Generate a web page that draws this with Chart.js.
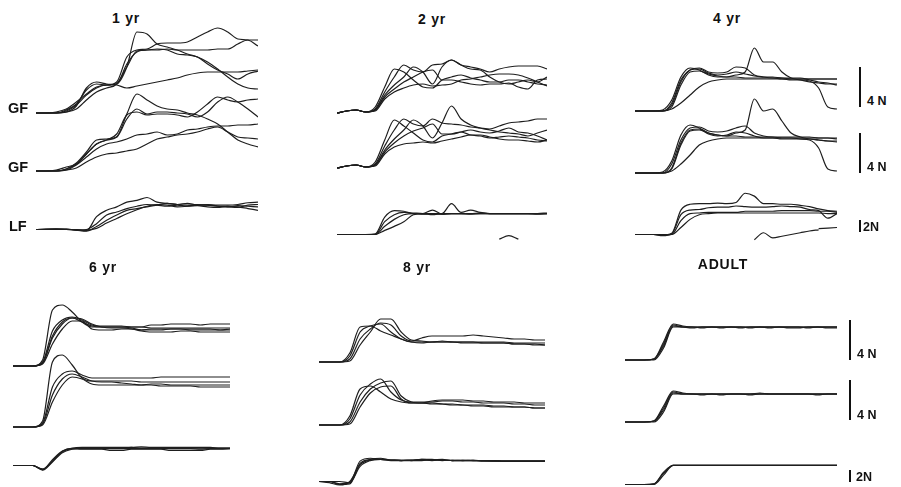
<!DOCTYPE html>
<html>
<head>
<meta charset="utf-8">
<script src="https://cdn.jsdelivr.net/npm/chart.js@4.4.0/dist/chart.umd.min.js"></script>
<style>
html, body { margin: 0; padding: 0; background: #fff; }
body { width: 901px; height: 487px; position: relative; overflow: hidden;
       font-family: "Liberation Sans", Arial, sans-serif; font-weight: bold; color: #111; }
canvas { position: absolute; }
.t { position: absolute; white-space: nowrap; transform: translate(-50%, -50%); }
.lbl { position: absolute; white-space: nowrap; transform: translateY(-50%); }
.bar { position: absolute; width: 2px; background: #111; }
</style>
</head>
<body>
<script>
// time axis, ms (one sample every 100 ms)
var time = [0,100,200,300,400,500,600,700,800,900,1000,1100,1200,1300,1400,1500,1600,1700,1800,1900,2000,2100,2200];

// forces in N, one array per trial
var yr1GF1 = [
    [0,0,0.1,0.4,1.1,1.9,2.6,2.8,2.9,4.6,8.1,7.9,6.9,6.6,6.3,5.9,5.6,4.9,4.3,3.9,3.4,3.9,4.2],
    [0,0,0,0.3,0.9,2.3,2.9,2.8,3.1,5.6,6.3,6.4,6.9,7.0,7.0,7.1,7.6,8.1,8.5,8.1,7.4,7.3,6.7],
    [0,0,0,0.1,0.7,2.5,3.1,2.9,2.8,2.5,2.7,2.9,3.1,3.3,3.5,3.8,4.0,4.1,4.1,4.1,4.1,4.2,4.3],
    [0,0,0,0.1,0.4,1.3,2.1,2.5,2.9,4.6,6.2,6.3,6.4,6.3,5.9,5.8,5.6,5.1,4.4,3.6,2.9,2.5,2.4],
    [0,0,0,0.2,0.8,1.8,2.5,2.8,2.9,4.9,6.1,6.3,6.3,6.4,6.3,6.3,6.3,6.3,6.4,6.4,6.9,7.3,7.3]
];
var yr1GF2 = [
    [0,0,0.1,0.4,0.7,1.7,2.7,3.1,3.4,5.7,7.7,7.1,6.5,6.2,6.1,5.8,5.6,5.2,4.7,3.9,3.1,2.7,2.4],
    [0,0,0,0.2,0.8,1.9,3.1,3.2,3.4,5.2,6.2,5.7,5.9,5.9,5.8,5.7,5.4,5.9,6.9,7.4,6.9,6.2,5.4],
    [0,0,0,0.1,0.6,1.4,2.2,2.7,2.9,3.2,3.6,3.7,3.9,3.6,3.7,4.1,4.2,4.4,4.5,4.5,4.6,4.6,4.7],
    [0,0,0,0.1,0.3,0.9,1.4,1.7,1.8,2.0,2.2,2.7,3.2,3.4,3.6,3.7,3.9,4.2,4.4,3.9,3.4,3.3,3.2],
    [0,0,0,0.2,0.7,1.7,2.7,3.1,3.7,5.6,5.9,5.6,5.7,5.7,5.6,5.4,5.9,6.7,7.4,7.1,6.9,7.1,7.2]
];
var yr1LF = [
    [0,0,0.1,0,-0.1,-0.2,2.2,3.3,3.9,4.7,5.0,5.5,4.7,4.5,4.3,4.5,4.2,4.3,4.2,4.2,4.3,4.6,4.7],
    [0,0,0,0.1,-0.1,0,1.0,2.5,3.0,3.6,4.0,4.3,4.2,4.0,4.2,4.0,4.1,3.9,3.8,4.0,3.9,3.6,3.3],
    [0,0.1,0,0,-0.1,-0.3,0.5,1.6,2.5,3.3,3.6,3.9,4.2,4.5,4.3,4.2,4.3,4.2,4.0,3.9,4.1,4.0,3.9],
    [0,0,0.1,0,0,-0.1,0.2,1.1,1.9,2.7,3.4,4.0,4.3,4.2,3.9,4.0,4.2,4.2,4.0,3.9,3.8,4.2,4.3]
];

var yr2GF1 = [
    [0,0.2,0.3,0.1,0.6,2.6,4.4,4.1,3.3,2.6,2.5,3.3,3.6,3.8,3.5,3.3,3.1,3.1,3.3,3.3,3.1,2.9,2.8],
    [0,0.2,0.3,0.1,0.4,2.1,3.6,4.8,4.3,4.1,4.8,4.9,5.3,4.8,4.6,4.4,4.1,4.4,4.6,4.7,4.7,4.7,4.4],
    [0,0.2,0.3,0.1,0.3,1.8,2.8,3.6,4.6,4.1,2.9,4.6,5.3,4.8,4.4,4.3,3.6,3.1,2.9,3.1,3.3,3.1,3.6],
    [0,0.2,0.3,0.1,0.2,1.4,2.1,2.5,2.8,2.9,2.7,2.8,2.9,3.3,3.4,3.6,3.8,3.9,3.9,3.8,3.5,3.1,2.7],
    [0,0.2,0.3,0.1,0.3,1.6,2.4,3.1,3.6,4.1,4.3,3.3,3.3,3.1,2.9,2.8,2.9,2.9,3.0,2.6,2.4,3.3,3.4]
];
var yr2GF2 = [
    [0,0.2,0.3,0.1,0.6,2.8,4.8,4.2,3.5,2.8,2.6,3.2,3.4,3.6,3.3,3.2,3.0,3.1,3.2,3.1,3.0,2.8,2.7],
    [0,0.2,0.3,0.1,0.4,2.2,3.8,4.9,4.4,4.2,4.9,4.5,4.4,4.3,4.1,4.0,3.9,4.2,4.5,4.6,4.7,4.9,4.9],
    [0,0.2,0.3,0.1,0.3,1.8,2.9,3.8,4.8,4.2,3.0,4.5,6.2,4.9,4.3,4.0,3.8,3.6,3.5,3.4,3.2,3.5,3.8],
    [0,0.2,0.3,0.1,0.2,1.4,2.1,2.4,2.5,2.6,2.5,2.7,2.9,3.1,3.3,3.3,3.1,2.9,2.8,2.8,2.7,2.6,2.8],
    [0,0.2,0.3,0.1,0.3,1.6,2.5,3.2,3.7,4.0,4.4,3.4,3.4,3.6,3.8,3.6,3.5,3.7,4.0,3.6,3.5,3.2,2.8]
];
var yr2LF = [
    [0,0,0,0,0.1,3.0,4.1,4.0,3.6,3.6,3.4,3.6,3.6,3.6,3.6,3.6,3.6,3.6,3.6,3.6,3.6,3.6,3.6],
    [0,0,0,0,0,2.2,3.4,3.8,3.7,3.6,4.2,3.5,3.6,3.6,3.6,3.7,3.6,3.6,3.6,3.6,3.6,3.5,3.6],
    [0,0,0,0,0,1.4,2.6,3.4,3.6,3.5,3.6,3.6,5.3,3.8,4.2,3.8,3.6,3.6,3.6,3.6,3.6,3.6,3.7],
    [0,0,0,0,0,0.7,1.4,2.2,3.4,3.6,3.6,3.5,3.6,3.6,3.5,3.6,3.6,3.6,3.6,3.6,3.6,3.6,3.6],
    [null,null,null,null,null,null,null,null,null,null,null,null,null,null,null,null,null,-0.8,-0.2,-0.8,null,null,null]
];

var yr4GF1 = [
    [0,0,0,0.1,1.1,3.4,4.3,4.1,3.6,3.4,3.4,3.4,3.3,3.3,3.3,3.3,3.2,3.2,3.2,3.2,3.2,3.2,3.2],
    [0,0,0,0,0.8,3.1,4.1,4.3,3.9,3.8,3.9,4.4,4.3,3.6,3.4,3.3,3.3,3.2,3.2,3.2,3.2,3.2,3.2],
    [0,0,0,0,0.4,2.6,3.9,4.0,3.7,3.5,3.4,3.6,3.9,6.3,4.9,4.9,3.9,3.3,3.1,2.9,2.8,2.7,2.7],
    [0,0,0,0,0.2,0.8,1.6,2.4,2.9,3.1,3.2,3.2,3.2,3.2,3.2,3.2,3.2,3.1,3.1,3.0,2.3,0.4,0.2],
    [0,0,0,0,0.6,2.9,4.1,4.2,3.8,3.6,3.7,3.9,3.7,3.5,3.4,3.4,3.3,3.3,3.3,3.1,2.9,2.8,2.6]
];
var yr4GF2 = [
    [0,0,0,0.1,1.2,3.8,4.8,4.5,4.0,3.8,3.7,3.7,3.6,3.6,3.6,3.6,3.5,3.5,3.5,3.5,3.5,3.5,3.4],
    [0,0,0,0,0.9,3.3,4.5,4.6,4.2,4.1,4.2,4.5,4.7,4.0,3.7,3.6,3.6,3.6,3.6,3.6,3.5,3.5,3.5],
    [0,0,0,0,0.4,2.8,4.2,4.3,4.0,3.8,3.7,4.0,4.3,7.4,6.2,6.4,5.2,4.0,3.6,3.4,3.3,3.2,3.1],
    [0,0,0,0,0.2,0.9,1.8,2.8,3.2,3.4,3.5,3.5,3.5,3.5,3.5,3.5,3.5,3.5,3.4,3.3,2.5,0.4,0.2],
    [0,0,0,0,0.5,3.0,4.3,4.4,3.9,3.7,3.8,4.1,4.0,3.7,3.5,3.5,3.4,3.4,3.4,3.4,3.3,3.2,3.2]
];
var yr4LF = [
    [0,0,0,-0.1,0.2,4.2,5.2,5.3,5.3,5.4,5.3,5.5,7.1,6.6,5.3,5.3,5.2,5.2,5.0,4.8,4.4,4.1,4.0],
    [0,0,0,-0.2,0.1,3.4,4.2,4.3,4.6,4.7,4.7,4.9,4.8,4.7,4.7,4.8,4.9,4.8,4.7,4.3,4.1,2.8,3.6],
    [0,0,0,-0.1,0,2.4,3.6,3.7,3.8,3.8,3.8,3.8,4.0,4.0,4.0,4.0,4.1,4.1,4.1,4.1,4.0,4.0,3.8],
    [0,0,0,0,0,1.2,2.6,3.4,3.6,3.7,3.7,3.7,3.7,3.7,3.7,3.7,3.7,3.7,3.7,3.7,3.7,3.6,3.6],
    [null,null,null,null,null,null,null,null,null,null,null,null,null,-0.9,0.3,-0.6,-0.3,0.0,0.3,0.6,0.8,null,null],
    [null,null,null,null,null,null,null,null,null,null,null,null,null,null,null,null,null,null,null,null,1.0,1.1,1.2]
];

var yr6GF1 = [
    [0,0,0,0.6,5.6,6.1,5.4,4.4,3.9,3.9,3.9,3.9,3.9,3.9,3.8,3.8,3.8,3.8,3.8,3.8,3.8,3.8,3.8],
    [0,0,0,0.4,3.5,4.6,4.9,4.6,4.1,4.0,4.0,4.0,3.9,3.9,4.1,4.1,4.2,4.2,4.2,4.1,4.2,4.2,4.2],
    [0,0,0,0.3,2.8,4.2,4.8,4.7,4.2,3.9,3.8,3.8,3.7,3.5,3.4,3.4,3.4,3.5,3.5,3.4,3.4,3.4,3.4],
    [0,0,0,0.2,2.2,3.7,4.5,4.5,3.7,3.6,3.6,3.7,3.7,3.6,3.6,3.6,3.7,3.7,3.6,3.6,3.6,3.6,3.6],
    [0,0,0,0.3,3.0,4.4,4.8,4.4,4.0,3.9,3.9,3.9,3.8,3.6,3.7,3.7,3.7,3.7,3.7,3.7,3.7,3.6,3.7]
];
var yr6GF2 = [
    [0,0,0,0.6,6.5,7.2,6.2,4.9,4.6,4.6,4.6,4.6,4.6,4.5,4.5,4.5,4.5,4.5,4.5,4.5,4.5,4.5,4.5],
    [0,0,0,0.4,4.0,5.3,5.6,5.2,4.9,4.9,4.9,4.9,4.9,4.9,4.9,5.0,5.0,5.0,5.0,5.0,5.0,5.0,5.0],
    [0,0,0,0.3,3.2,4.8,5.3,5.0,4.6,4.5,4.5,4.4,4.3,4.2,4.2,4.1,4.1,4.1,4.1,4.0,4.0,4.0,4.0],
    [0,0,0,0.2,2.5,4.2,5.0,4.8,4.3,4.2,4.2,4.2,4.2,4.2,4.3,4.3,4.2,4.2,4.2,4.2,4.2,4.2,4.2]
];
var yr6LF = [
    [0,0,0,-0.7,1.0,2.5,2.9,2.9,2.9,2.9,2.9,2.9,2.9,2.9,2.9,2.9,2.9,2.9,2.9,2.8,2.9,2.9,2.9],
    [0,0,0,-0.8,0.6,2.2,2.8,3.0,3.0,3.0,3.0,3.0,3.1,3.0,3.0,3.0,3.0,3.0,3.0,3.0,3.0,3.0,3.0],
    [0,0,0,-0.6,0.7,2.4,2.9,2.8,2.8,2.8,2.6,2.6,2.8,2.8,2.8,2.8,2.6,2.6,2.6,2.6,2.8,2.8,2.9],
    [0,0,0,-0.7,0.8,2.4,3.0,3.1,3.1,3.1,3.1,3.1,3.1,3.2,3.1,3.1,3.1,3.1,3.1,3.1,3.1,3.0,3.0]
];

var yr8GF1 = [
    [0,0,0,0.9,3.5,3.6,3.1,2.7,2.3,2.0,1.9,2.0,2.0,2.0,2.0,2.0,1.9,1.9,1.9,1.8,1.8,1.7,1.7],
    [0,0,0,0.6,3.0,3.6,3.8,3.0,2.3,2.0,2.0,2.0,2.0,2.0,1.9,1.9,1.9,1.9,1.9,1.8,1.8,1.8,1.7],
    [0,0,0,0.3,2.3,3.3,3.9,3.7,2.6,2.1,2.4,2.6,2.6,2.6,2.6,2.7,2.6,2.5,2.4,2.3,2.3,2.2,2.2],
    [0,0,0,0.1,1.7,3.0,4.3,4.3,3.0,2.2,2.1,2.0,2.1,2.0,2.0,2.0,2.0,2.0,2.0,1.9,1.9,1.9,1.9]
];
var yr8GF2 = [
    [0,0,0,0.9,3.6,3.9,3.3,2.6,2.3,2.2,2.2,2.2,2.1,2.0,2.0,1.9,1.9,1.8,1.8,1.8,1.8,1.7,1.7],
    [0,0,0,0.6,3.0,4.1,4.6,3.3,2.5,2.3,2.3,2.3,2.4,2.4,2.3,2.3,2.2,2.2,2.2,2.1,2.1,2.0,2.0],
    [0,0,0,0.3,2.3,3.6,4.2,4.4,2.9,2.3,2.2,2.4,2.5,2.5,2.5,2.4,2.4,2.3,2.3,2.3,2.2,2.2,2.2],
    [0,0,0,0.1,1.8,3.2,3.8,3.9,2.6,2.2,2.2,2.1,2.1,2.1,2.0,2.0,2.0,1.9,1.9,1.8,1.8,1.7,1.7]
];
var yr8LF = [
    [0,0,-0.4,-0.2,3.5,4.0,3.8,3.7,3.6,3.7,3.7,3.6,3.7,3.6,3.6,3.6,3.6,3.6,3.5,3.5,3.5,3.5,3.5],
    [0,-0.2,-0.6,0,2.9,3.7,3.8,3.6,3.6,3.7,3.8,3.7,3.8,3.6,3.7,3.6,3.6,3.6,3.5,3.5,3.5,3.5,3.5],
    [0,0,-0.5,-0.4,3.1,3.8,4.0,3.7,3.7,3.6,3.8,3.8,3.6,3.7,3.6,3.7,3.5,3.5,3.5,3.5,3.5,3.5,3.5],
    [0,0,0,-0.2,2.6,3.6,3.8,3.7,3.6,3.6,3.6,3.7,3.7,3.6,3.6,3.6,3.6,3.5,3.5,3.5,3.5,3.5,3.5]
];

var adultGF1 = [
    [0,0,0,0.1,1.6,3.5,3.3,3.3,3.3,3.3,3.3,3.3,3.3,3.3,3.3,3.3,3.3,3.3,3.3,3.3,3.3,3.3,3.3],
    [0,0,0,0.1,1.4,3.4,3.3,3.2,3.3,3.3,3.2,3.3,3.3,3.2,3.3,3.3,3.3,3.2,3.2,3.3,3.3,3.2,3.2],
    [0,0,0,0,1.2,3.3,3.3,3.3,3.2,3.3,3.3,3.3,3.2,3.3,3.3,3.2,3.3,3.3,3.3,3.2,3.3,3.3,3.3],
    [0,0,0,0.1,1.8,3.6,3.4,3.3,3.3,3.3,3.3,3.3,3.3,3.3,3.3,3.3,3.3,3.3,3.3,3.3,3.3,3.3,3.3]
];
var adultGF2 = [
    [0,0,0,0.1,1.4,3.0,2.8,2.8,2.8,2.8,2.8,2.8,2.8,2.8,2.8,2.8,2.8,2.8,2.8,2.8,2.8,2.8,2.8],
    [0,0,0,0.1,1.2,2.9,2.8,2.8,2.7,2.8,2.8,2.8,2.8,2.8,2.9,2.8,2.8,2.8,2.8,2.8,2.7,2.8,2.8],
    [0,0,0,0,1.0,2.8,2.8,2.8,2.8,2.8,2.7,2.8,2.8,2.8,2.8,2.8,2.8,2.8,2.8,2.8,2.8,2.8,2.8],
    [0,0,0,0.1,1.6,3.1,2.9,2.8,2.8,2.8,2.8,2.8,2.8,2.7,2.8,2.8,2.8,2.8,2.8,2.8,2.8,2.8,2.8]
];
var adultLF = [
    [0,0,0,0.1,1.9,3.3,3.3,3.3,3.3,3.3,3.3,3.3,3.3,3.3,3.3,3.3,3.3,3.3,3.3,3.3,3.3,3.3,3.3],
    [0,0,0,0,1.6,3.3,3.3,3.3,3.3,3.3,3.3,3.3,3.3,3.3,3.3,3.3,3.3,3.3,3.3,3.3,3.3,3.3,3.3],
    [0,0,0,0.1,2.1,3.3,3.3,3.3,3.3,3.3,3.3,3.3,3.3,3.3,3.3,3.3,3.3,3.3,3.3,3.3,3.3,3.3,3.3]
];

// vertical scale of each row type (px per newton and visible force range)
var rowKinds = {
    GF: { pxPerN: 10, min: -1, max: 9 },
    LF: { pxPerN: 5.8, min: -2.5, max: 8 }
};

var panels = [
    { title: '1 yr', tx: 126, ty: 18, x0: 36, x1: 258,
      rows: [[yr1GF1, 112.7, 'GF'], [yr1GF2, 170.7, 'GF'], [yr1LF, 229.3, 'LF']] },
    { title: '2 yr', tx: 432, ty: 19, x0: 337, x1: 547,
      rows: [[yr2GF1, 112.7, 'GF'], [yr2GF2, 168.3, 'GF'], [yr2LF, 234.3, 'LF']] },
    { title: '4 yr', tx: 727, ty: 18, x0: 635, x1: 837,
      rows: [[yr4GF1, 111, 'GF'], [yr4GF2, 172.7, 'GF'], [yr4LF, 234.3, 'LF']] },
    { title: '6 yr', tx: 103, ty: 267, x0: 13, x1: 230,
      rows: [[yr6GF1, 365.7, 'GF'], [yr6GF2, 426.7, 'GF'], [yr6LF, 465, 'LF']] },
    { title: '8 yr', tx: 417, ty: 267, x0: 319, x1: 545,
      rows: [[yr8GF1, 361.7, 'GF'], [yr8GF2, 425, 'GF'], [yr8LF, 481.7, 'LF']] },
    { title: 'ADULT', tx: 723, ty: 264, x0: 625, x1: 837,
      rows: [[adultGF1, 360, 'GF'], [adultGF2, 421.7, 'GF'], [adultLF, 484.3, 'LF']] }
];

var rowLabels = [
    { text: 'GF', x: 8, y: 108 },
    { text: 'GF', x: 8, y: 167 },
    { text: 'LF', x: 9, y: 226 }
];

// calibration bars: x, bottom y, size in N, label
var scaleBars = [
    { x: 860, bottom: 107, n: 4, kind: 'GF', label: '4 N', lx: 867, ly: 101 },
    { x: 860, bottom: 173, n: 4, kind: 'GF', label: '4 N', lx: 867, ly: 167 },
    { x: 860, bottom: 232, n: 2, kind: 'LF', label: '2N', lx: 863, ly: 227 },
    { x: 850, bottom: 360, n: 4, kind: 'GF', label: '4 N', lx: 857, ly: 354 },
    { x: 850, bottom: 420, n: 4, kind: 'GF', label: '4 N', lx: 857, ly: 415 },
    { x: 850, bottom: 482, n: 2, kind: 'LF', label: '2N', lx: 856, ly: 477 }
];

function addText(cls, text, x, y, size, spacing) {
    var d = document.createElement('div');
    d.className = cls;
    d.textContent = text;
    d.style.left = x + 'px';
    d.style.top = y + 'px';
    d.style.fontSize = size + 'px';
    if (spacing) d.style.letterSpacing = spacing + 'px';
    document.body.appendChild(d);
}

function drawRow(traces, baseline, kindName, x0, x1) {
    var kind = rowKinds[kindName];
    var h = (kind.max - kind.min) * kind.pxPerN;
    var w = Math.round(x1 - x0);
    var cv = document.createElement('canvas');
    cv.width = w;
    cv.height = Math.round(h);
    cv.style.left = x0 + 'px';
    cv.style.top = (baseline - kind.max * kind.pxPerN) + 'px';
    document.body.appendChild(cv);

    new Chart(cv, {
        type: 'line',
        data: {
            datasets: traces.map(function (tr) {
                return {
                    data: tr.map(function (v, i) { return { x: time[i], y: v }; }),
                    borderColor: '#1e1e1e',
                    borderWidth: 1.2,
                    pointRadius: 0,
                    cubicInterpolationMode: 'monotone',
                    spanGaps: false,
                    fill: false,
                    clip: false
                };
            })
        },
        options: {
            responsive: false,
            animation: false,
            events: [],
            layout: { padding: 0 },
            plugins: { legend: { display: false }, tooltip: { enabled: false } },
            scales: {
                x: { type: 'linear', min: time[0], max: time[time.length - 1], display: false },
                y: { min: kind.min, max: kind.max, display: false }
            }
        }
    });
}

panels.forEach(function (p) {
    addText('t', p.title, p.tx, p.ty, 14, 0.8);
    p.rows.forEach(function (r) {
        drawRow(r[0], r[1], r[2], p.x0, p.x1);
    });
});

rowLabels.forEach(function (l) {
    addText('lbl', l.text, l.x, l.y, 14.5);
});

scaleBars.forEach(function (b) {
    var len = b.n * rowKinds[b.kind].pxPerN;
    var d = document.createElement('div');
    d.className = 'bar';
    d.style.left = (b.x - 1) + 'px';
    d.style.top = (b.bottom - len) + 'px';
    d.style.height = len + 'px';
    document.body.appendChild(d);
    addText('lbl', b.label, b.lx, b.ly, 12.5);
});
</script>
</body>
</html>
